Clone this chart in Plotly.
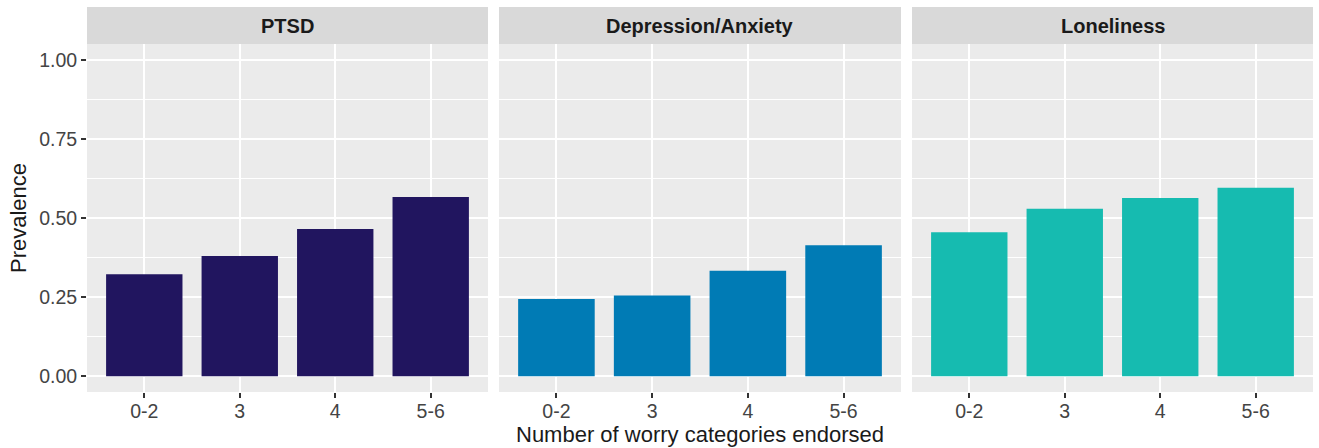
import plotly.graph_objects as go

categories = ["0-2", "3", "4", "5-6"]
panels = ["PTSD", "Depression/Anxiety", "Loneliness"]
ptsd = [0.322, 0.380, 0.465, 0.566]
depression_anxiety = [0.244, 0.255, 0.333, 0.414]
loneliness = [0.455, 0.529, 0.563, 0.596]
series = [ptsd, depression_anxiety, loneliness]
colors = ["#21155F", "#007BB5", "#16BBB0"]
y_tickvals = [0, 0.25, 0.5, 0.75, 1.0]
y_ticktext = ["0.00", "0.25", "0.50", "0.75", "1.00"]

W, H = 1319, 448
ML, MR, MT, MB = 87, 6, 7, 56
plot_w = W - ML - MR
plot_h = H - MT - MB
strip_h = 37
ydom_top = (plot_h - strip_h) / plot_h

px_domains = [(87, 488), (499, 901), (912, 1313)]
xdoms = [((a - ML) / plot_w, (b - ML) / plot_w) for a, b in px_domains]

FONT = "Liberation Sans, Arial, Helvetica, sans-serif"
fig = go.Figure()
layout = {}
for i, (name, vals, col) in enumerate(zip(panels, series, colors)):
    n = "" if i == 0 else str(i + 1)
    fig.add_trace(go.Bar(
        x=categories, y=vals, name=name, marker=dict(color=col, line=dict(width=0)),
        width=0.8, xaxis="x" + n, yaxis="y" + n, showlegend=False,
    ))
    layout["xaxis" + n] = dict(
        domain=list(xdoms[i]), anchor="y" + n, type="category",
        categoryorder="array", categoryarray=categories,
        range=[-0.6, 3.6], showgrid=True, gridcolor="white", gridwidth=2,
        ticks="outside", ticklen=5, tickwidth=1.5, tickcolor="#333333",
        ticklabelstandoff=-3,
        tickfont=dict(family=FONT, size=19.5, color="#444444"),
        showline=False, zeroline=False, fixedrange=True,
    )
    ya = dict(
        domain=[0, ydom_top], anchor="x" + n, range=[-0.05, 1.05],
        tickvals=y_tickvals, ticktext=y_ticktext,
        showgrid=True, gridcolor="white", gridwidth=2,
        minor=dict(tickvals=[0.125, 0.375, 0.625, 0.875], showgrid=True,
                   gridcolor="white", gridwidth=1, ticks=""),
        zeroline=False, showline=False, fixedrange=True,
    )
    if i == 0:
        ya.update(ticks="outside", ticklen=5, tickwidth=1.5, tickcolor="#333333",
                  tickfont=dict(family=FONT, size=19.5, color="#444444"))
    else:
        ya.update(matches="y", showticklabels=False, ticks="")
    layout["yaxis" + n] = ya

shapes = []
annotations = []
for i, name in enumerate(panels):
    n = "" if i == 0 else str(i + 1)
    shapes.append(dict(type="rect", xref="x" + n + " domain", yref="paper",
                       x0=0, x1=1, y0=ydom_top, y1=1,
                       fillcolor="#D9D9D9", line=dict(width=0), layer="below"))
    annotations.append(dict(text="<b>" + name + "</b>", xref="x" + n + " domain", yref="paper",
                            x=0.5, y=(ydom_top + 1) / 2, xanchor="center", yanchor="middle",
                            showarrow=False, font=dict(family=FONT, size=20, color="#1A1A1A")))

annotations.append(dict(text="Number of worry categories endorsed", xref="paper", yref="paper",
                        x=0.5, y=-(434 - (H - MB)) / plot_h, xanchor="center", yanchor="middle",
                        showarrow=False, font=dict(family=FONT, size=22, color="#1A1A1A")))
annotations.append(dict(text="Prevalence", xref="paper", yref="paper", textangle=-90,
                        x=(18 - ML) / plot_w, y=ydom_top / 2, xanchor="center", yanchor="middle",
                        showarrow=False, font=dict(family=FONT, size=22, color="#1A1A1A")))

fig.update_layout(
    width=W, height=H,
    margin=dict(l=ML, r=MR, t=MT, b=MB),
    paper_bgcolor="white", plot_bgcolor="#EBEBEB",
    bargap=0.2, shapes=shapes, annotations=annotations,
    font=dict(family=FONT),
    **layout,
)
fig.write_html("out.html", config={"displayModeBar": False},
               post_script="document.body.style.margin='0';document.body.style.overflow='hidden';")
